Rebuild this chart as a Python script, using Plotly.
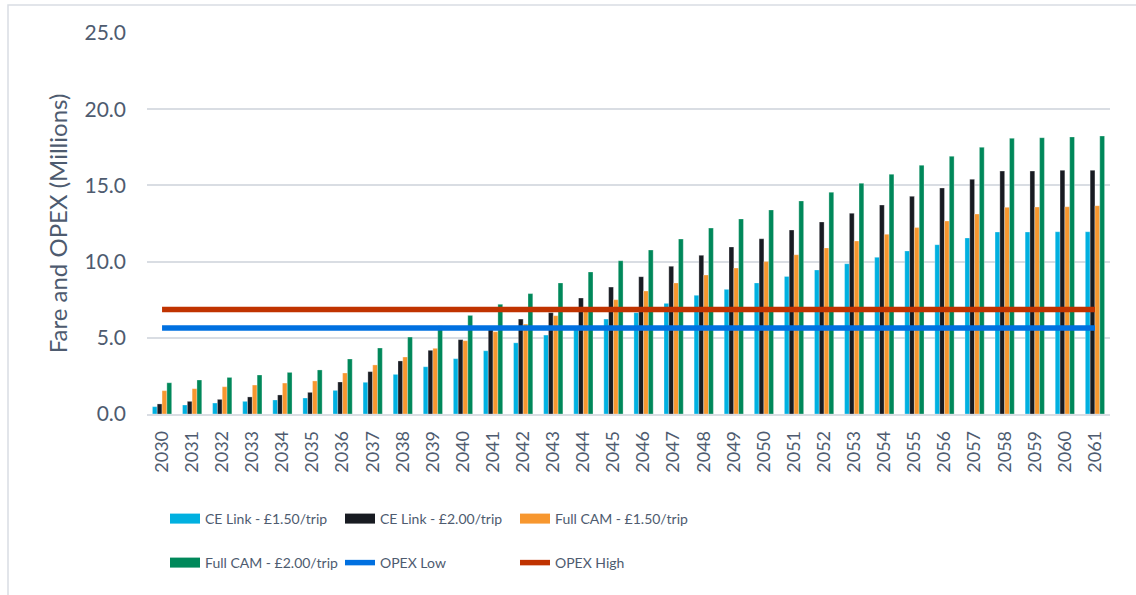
import plotly.graph_objects as go

years = [str(y) for y in range(2030, 2062)]

ce_link_150 = [0.48, 0.59, 0.72, 0.83, 0.92, 1.05, 1.55, 2.08, 2.60, 3.10,
               3.63, 4.15, 4.67, 5.18, 5.70, 6.23, 6.65, 7.26, 7.79, 8.18,
               8.60, 9.03, 9.45, 9.86, 10.28, 10.70, 11.11, 11.55, 11.94, 11.94,
               11.96, 11.96]
ce_link_200 = [0.66, 0.83, 0.96, 1.12, 1.25, 1.42, 2.10, 2.78, 3.48, 4.18,
               4.88, 5.55, 6.23, 6.65, 7.61, 8.33, 9.01, 9.69, 10.41, 10.96,
               11.50, 12.07, 12.60, 13.17, 13.71, 14.28, 14.83, 15.40, 15.94, 15.94,
               15.99, 15.99]
full_cam_150 = [1.53, 1.66, 1.79, 1.90, 2.03, 2.17, 2.69, 3.22, 3.74, 4.31,
                4.81, 5.40, 5.90, 6.45, 6.95, 7.50, 8.07, 8.60, 9.12, 9.58,
                10.00, 10.45, 10.90, 11.35, 11.79, 12.23, 12.66, 13.12, 13.56, 13.58,
                13.60, 13.67]
full_cam_200 = [2.05, 2.23, 2.40, 2.56, 2.73, 2.89, 3.61, 4.33, 5.05, 5.78,
                6.47, 7.20, 7.90, 8.60, 9.32, 10.06, 10.76, 11.48, 12.20, 12.80,
                13.39, 13.98, 14.55, 15.14, 15.73, 16.32, 16.91, 17.50, 18.09, 18.13,
                18.18, 18.24]
opex_low_value = 5.65
opex_high_value = 6.85
opex_low = [opex_low_value] * len(years)
opex_high = [opex_high_value] * len(years)

bar_names = ["CE Link - £1.50/trip", "CE Link - £2.00/trip",
             "Full CAM - £1.50/trip", "Full CAM - £2.00/trip"]
bar_values = [ce_link_150, ce_link_200, full_cam_150, full_cam_200]
bar_colors = ["#00B0E0", "#181B22", "#F7972F", "#00885A"]
bar_legends = ["legend", "legend", "legend", "legend2"]

TEXT = "#4E5B6F"
FONT = "Lato"

fig = go.Figure()

for name, vals, col, leg in zip(bar_names, bar_values, bar_colors, bar_legends):
    fig.add_trace(go.Bar(
        x=years, y=vals, name=name, marker_color=col,
        marker_line=dict(color="rgba(255,255,255,0.6)", width=0.5),
        legendgroup=name, showlegend=False,
    ))
    # legend swatch (wide rectangle look)
    fig.add_trace(go.Scatter(
        x=[None], y=[None], mode="lines", name=name, legendgroup=name,
        line=dict(color=col, width=12), legend=leg, hoverinfo="skip",
    ))

fig.add_trace(go.Scatter(
    x=years, y=opex_low, mode="lines", name="OPEX Low",
    line=dict(color="#0070E0", width=5.5), legend="legend2",
))
fig.add_trace(go.Scatter(
    x=years, y=opex_high, mode="lines", name="OPEX High",
    line=dict(color="#C03300", width=5.5), legend="legend2",
))

L, R, T, B = 147, 26, 33, 181
W, H = 1136, 595
pw, ph = W - L - R, H - T - B

def px_x(p):
    return (p - L) / pw

def px_y(p):
    return (H - B - p) / ph

legend_common = dict(
    orientation="h", xanchor="left", yanchor="middle",
    font=dict(family=FONT, size=14, color=TEXT),
    entrywidth=130, entrywidthmode="pixels",
    bgcolor="rgba(0,0,0,0)", borderwidth=0, itemclick=False,
)

fig.update_layout(
    width=W, height=H,
    margin=dict(l=L, r=R, t=T, b=B, pad=0),
    paper_bgcolor="white", plot_bgcolor="white",
    font=dict(family=FONT, color=TEXT),
    barmode="group", bargap=0.36, bargroupgap=0.0,
    showlegend=True,
    legend=dict(x=px_x(165), y=px_y(519), **legend_common),
    legend2=dict(x=px_x(165), y=px_y(563), **legend_common),
    xaxis=dict(
        type="category", tickangle=-90,
        tickfont=dict(family=FONT, size=18, color=TEXT),
        showgrid=False, showline=True, linecolor="#D9DDE3", linewidth=1.5,
        ticks="", ticklabelstandoff=8,
    ),
    yaxis=dict(
        range=[0, 25], dtick=5, tickformat=".1f",
        tickfont=dict(family=FONT, size=21, color=TEXT),
        showgrid=True, gridcolor="#D9DDE3", gridwidth=1.5,
        zeroline=False, showline=False, ticks="", ticklabelstandoff=20,
        title=dict(text="Fare and OPEX (Millions)",
                   font=dict(family=FONT, size=24, color=TEXT), standoff=10),
    ),
    shapes=[dict(
        type="rect", xref="paper", yref="paper",
        x0=px_x(8), x1=px_x(1145), y0=px_y(605), y1=px_y(5),
        line=dict(color="#D9DDE3", width=1.5), fillcolor="rgba(0,0,0,0)",
        layer="below",
    )],
)

fig.write_html("out.html")
